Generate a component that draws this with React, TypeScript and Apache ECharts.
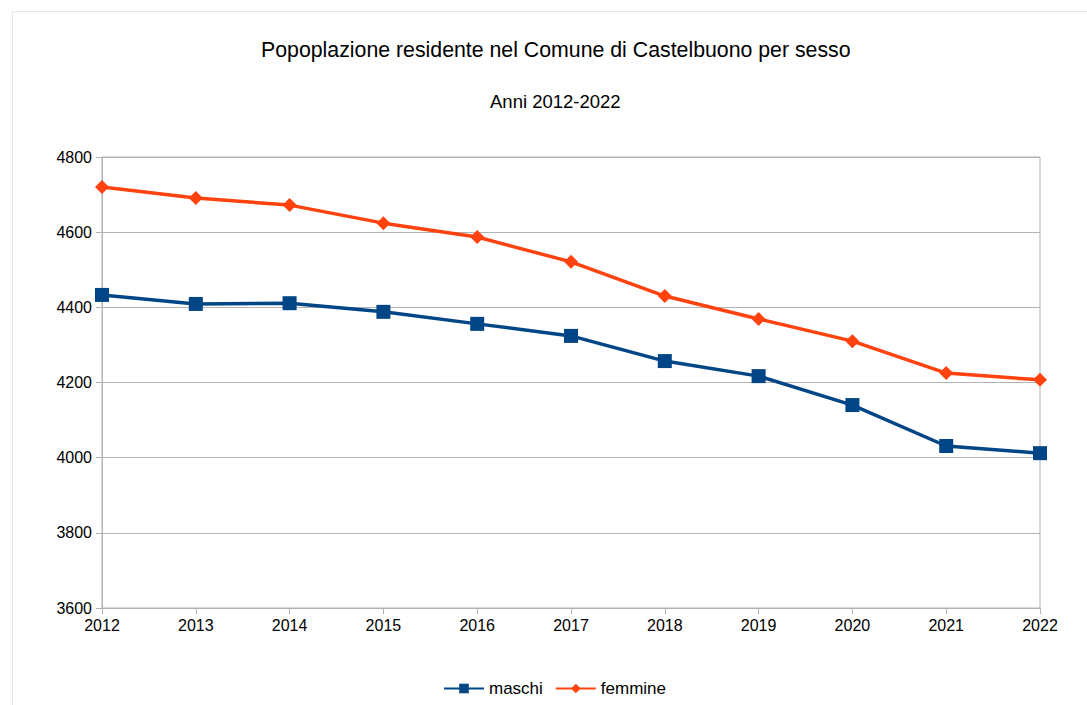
import React, { useEffect, useRef } from "react";
import * as echarts from "echarts";

const years = ["2012", "2013", "2014", "2015", "2016", "2017", "2018", "2019", "2020", "2021", "2022"];
const maschi = [4433, 4409, 4411, 4388, 4356, 4324, 4257, 4217, 4140, 4031, 4012];
const femmine = [4720, 4691, 4672, 4624, 4587, 4521, 4430, 4369, 4310, 4225, 4207];

const FONT = "'Liberation Sans', Arial, sans-serif";

export default function App() {
  const ref = useRef<HTMLDivElement>(null);
  useEffect(() => {
    if (!ref.current) return;
    const chart = echarts.init(ref.current, null, { renderer: "svg" });
    chart.setOption({
      animation: false,
      backgroundColor: "#ffffff",
      textStyle: { fontFamily: FONT },
      title: [
        {
          text: "Popoplazione residente nel Comune di Castelbuono per sesso",
          left: 256,
          top: 34,
          textStyle: { fontFamily: FONT, fontSize: 21.3, fontWeight: "normal", color: "#000" },
        },
        {
          text: "Anni 2012-2022",
          left: 485,
          top: 87,
          textStyle: { fontFamily: FONT, fontSize: 18.5, fontWeight: "normal", color: "#000" },
        },
      ],
      graphic: [
        {
          type: "rect",
          shape: { x: 12.5, y: 11.5, width: 1080, height: 700 },
          style: { fill: "none", stroke: "#e6e6e6", lineWidth: 1 },
          silent: true,
        },
      ],
      legend: {
        bottom: 3,
        left: 438,
        itemWidth: 40,
        itemHeight: 12,
        itemGap: 12,
        textStyle: { fontFamily: FONT, fontSize: 17, color: "#000" },
        data: ["maschi", "femmine"],
      },
      grid: {
        left: 102,
        right: 47,
        top: 157,
        bottom: 97,
        show: true,
        borderColor: "#b3b3b3",
        borderWidth: 1,
      },
      xAxis: {
        type: "category",
        data: years,
        boundaryGap: false,
        axisLine: { lineStyle: { color: "#b3b3b3" } },
        axisTick: { show: true, length: 6, lineStyle: { color: "#b3b3b3" } },
        axisLabel: { color: "#000", fontSize: 16, fontFamily: FONT, margin: 9 },
        splitLine: { show: false },
      },
      yAxis: {
        type: "value",
        min: 3600,
        max: 4800,
        interval: 200,
        axisLine: { show: true, lineStyle: { color: "#b3b3b3" } },
        axisTick: { show: true, length: 6, lineStyle: { color: "#b3b3b3" } },
        axisLabel: {
          color: "#000",
          fontSize: 16,
          fontFamily: FONT,
          margin: 10,
          formatter: (v: number) => String(v),
        },
        splitLine: { show: true, lineStyle: { color: "#b3b3b3" } },
      },
      series: [
        {
          name: "maschi",
          type: "line",
          data: maschi,
          symbol: "rect",
          symbolSize: 14,
          lineStyle: { color: "#004586", width: 3.5 },
          itemStyle: { color: "#004586" },
        },
        {
          name: "femmine",
          type: "line",
          data: femmine,
          symbol: "diamond",
          symbolSize: 14,
          lineStyle: { color: "#ff420e", width: 3.5 },
          itemStyle: { color: "#ff420e" },
        },
      ],
    });
    return () => chart.dispose();
  }, []);
  return (
    <div
      ref={ref}
      style={{ position: "fixed", left: 0, top: 0, width: 1087, height: 705 }}
    />
  );
}
